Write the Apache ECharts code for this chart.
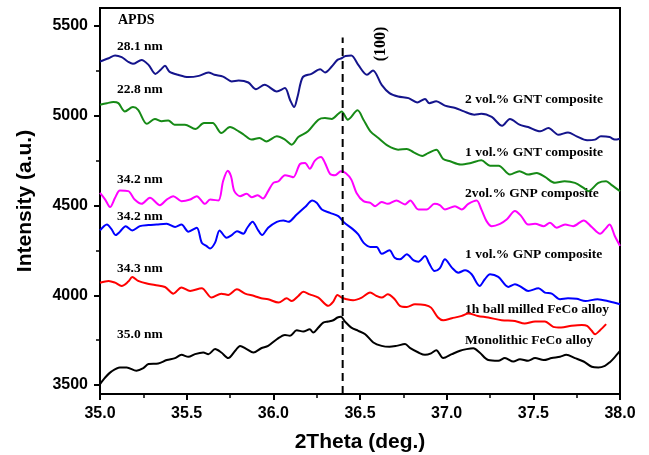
<!DOCTYPE html>
<html>
<head>
<meta charset="utf-8">
<script src="https://cdn.jsdelivr.net/npm/echarts@6/dist/echarts.min.js"></script>
<style>
  html, body { margin: 0; padding: 0; background: #fff; }
  #chart { width: 649px; height: 455px; }
</style>
</head>
<body>
<div id="chart"></div>
<script>
// XRD scans around the (100) reflection, [2theta (deg), intensity (a.u.)]
const gnt2 = [[35.0,5302],[35.05,5320],[35.087,5335],[35.125,5326],[35.16,5302],[35.19,5289],[35.24,5311],[35.28,5283],[35.32,5233],[35.35,5256],[35.375,5278],[35.40,5246],[35.45,5228],[35.51,5215],[35.57,5222],[35.625,5241],[35.66,5228],[35.71,5218],[35.76,5191],[35.80,5196],[35.856,5185],[35.90,5148],[35.95,5172],[36.02,5135],[36.067,5154],[36.096,5089],[36.12,5048],[36.14,5107],[36.17,5215],[36.22,5233],[36.27,5259],[36.298,5241],[36.337,5274],[36.37,5311],[36.394,5320],[36.417,5333],[36.45,5335],[36.49,5283],[36.54,5228],[36.575,5252],[36.625,5172],[36.67,5126],[36.72,5107],[36.78,5098],[36.83,5074],[36.875,5093],[36.90,5070],[36.94,5080],[36.99,5056],[37.05,5043],[37.10,5024],[37.16,5006],[37.20,5011],[37.26,4993],[37.32,4944],[37.365,4982],[37.42,4950],[37.47,4937],[37.54,4913],[37.587,4931],[37.645,4894],[37.70,4907],[37.75,4885],[37.81,4863],[37.856,4867],[37.89,4885],[37.94,4881],[37.97,4867],[38.0,4872]];

const gnt1 = [[35.0,5061],[35.04,5070],[35.077,5076],[35.106,5070],[35.144,5024],[35.19,5048],[35.22,5033],[35.27,4955],[35.317,4982],[35.356,4969],[35.394,4974],[35.43,4950],[35.49,4950],[35.55,4926],[35.60,4959],[35.65,4959],[35.70,4904],[35.75,4937],[35.80,4913],[35.83,4894],[35.875,4867],[35.92,4876],[35.96,4857],[36.02,4885],[36.067,4867],[36.106,4839],[36.144,4881],[36.20,4913],[36.26,4978],[36.298,4987],[36.337,4982],[36.375,5011],[36.394,5024],[36.43,4978],[36.486,5030],[36.52,4978],[36.56,4913],[36.606,4876],[36.66,4833],[36.72,4811],[36.77,4815],[36.81,4796],[36.86,4776],[36.89,4790],[36.94,4811],[36.98,4759],[37.02,4746],[37.08,4728],[37.14,4737],[37.20,4752],[37.25,4722],[37.30,4722],[37.365,4672],[37.42,4691],[37.47,4672],[37.52,4681],[37.567,4659],[37.625,4626],[37.68,4635],[37.74,4626],[37.79,4598],[37.817,4580],[37.875,4626],[37.92,4635],[37.95,4615],[38.0,4580]];

const gnp2 = [[35.0,4570],[35.03,4533],[35.058,4491],[35.087,4543],[35.115,4583],[35.163,4580],[35.2,4533],[35.24,4509],[35.288,4543],[35.346,4502],[35.385,4533],[35.423,4552],[35.47,4524],[35.52,4533],[35.558,4552],[35.606,4509],[35.635,4533],[35.683,4528],[35.71,4635],[35.737,4694],[35.756,4663],[35.775,4580],[35.808,4552],[35.846,4565],[35.875,4546],[35.91,4557],[35.94,4539],[35.97,4580],[36.0,4626],[36.03,4635],[36.067,4668],[36.096,4663],[36.115,4657],[36.154,4731],[36.183,4737],[36.21,4705],[36.24,4750],[36.275,4770],[36.298,4737],[36.327,4676],[36.356,4668],[36.39,4691],[36.417,4681],[36.45,4644],[36.48,4570],[36.52,4524],[36.56,4515],[36.587,4496],[36.625,4520],[36.66,4509],[36.71,4528],[36.76,4506],[36.79,4528],[36.837,4478],[36.885,4478],[36.93,4509],[36.96,4502],[36.99,4478],[37.048,4496],[37.087,4478],[37.125,4509],[37.173,4528],[37.2,4478],[37.23,4413],[37.26,4385],[37.308,4398],[37.346,4422],[37.394,4469],[37.43,4441],[37.47,4394],[37.51,4398],[37.56,4385],[37.596,4404],[37.635,4376],[37.683,4394],[37.73,4385],[37.79,4417],[37.837,4380],[37.885,4343],[37.913,4367],[37.94,4394],[37.97,4330],[38.0,4275]];

const gnp1 = [[35.0,4361],[35.04,4394],[35.067,4367],[35.09,4335],[35.115,4354],[35.148,4385],[35.186,4361],[35.23,4385],[35.28,4391],[35.327,4394],[35.385,4398],[35.433,4380],[35.47,4394],[35.51,4354],[35.558,4376],[35.587,4293],[35.615,4274],[35.635,4261],[35.664,4293],[35.69,4361],[35.73,4320],[35.76,4335],[35.79,4357],[35.827,4343],[35.85,4376],[35.88,4409],[35.913,4361],[35.935,4335],[35.97,4376],[36.02,4409],[36.058,4417],[36.087,4409],[36.135,4450],[36.183,4491],[36.225,4528],[36.25,4515],[36.28,4478],[36.327,4459],[36.375,4441],[36.41,4404],[36.46,4367],[36.49,4339],[36.52,4293],[36.56,4269],[36.596,4269],[36.625,4231],[36.67,4250],[36.70,4209],[36.73,4200],[36.77,4228],[36.81,4194],[36.837,4187],[36.875,4218],[36.90,4176],[36.93,4135],[36.96,4150],[36.99,4200],[37.03,4154],[37.067,4126],[37.106,4139],[37.144,4117],[37.19,4052],[37.22,4089],[37.25,4117],[37.298,4102],[37.356,4046],[37.394,4061],[37.43,4046],[37.47,4024],[37.53,4039],[37.567,4015],[37.606,4009],[37.654,3978],[37.70,3983],[37.75,3980],[37.80,3968],[37.87,3978],[37.94,3965],[38.0,3950]];

const milled = [[35.0,4070],[35.05,4080],[35.087,4070],[35.125,4052],[35.163,4076],[35.186,4102],[35.22,4080],[35.27,4065],[35.317,4057],[35.375,4046],[35.423,4009],[35.47,4043],[35.52,4024],[35.587,4039],[35.644,3987],[35.70,4009],[35.74,4002],[35.79,4033],[35.837,4009],[35.89,3996],[35.93,3983],[35.97,3978],[36.03,3959],[36.077,3983],[36.106,3968],[36.144,3996],[36.173,4020],[36.21,4005],[36.26,3987],[36.317,3941],[36.346,3965],[36.37,4002],[36.394,3987],[36.423,3978],[36.46,3972],[36.51,3987],[36.558,4015],[36.596,3996],[36.625,3987],[36.66,4005],[36.70,3978],[36.73,3941],[36.77,3935],[36.817,3950],[36.875,3946],[36.91,3931],[36.95,3876],[36.98,3861],[37.03,3872],[37.087,3885],[37.125,3898],[37.18,3885],[37.24,3876],[37.317,3861],[37.394,3857],[37.45,3842],[37.51,3854],[37.567,3854],[37.615,3824],[37.66,3820],[37.72,3830],[37.78,3835],[37.81,3830],[37.837,3802],[37.856,3783],[37.885,3805],[37.92,3839]];

const monolithic = [[35.0,3505],[35.03,3542],[35.067,3576],[35.115,3598],[35.154,3598],[35.21,3580],[35.25,3594],[35.28,3617],[35.336,3620],[35.385,3639],[35.433,3650],[35.47,3668],[35.51,3657],[35.548,3672],[35.596,3681],[35.625,3672],[35.664,3700],[35.70,3681],[35.74,3650],[35.78,3691],[35.808,3718],[35.846,3700],[35.885,3681],[35.93,3705],[35.97,3718],[36.02,3755],[36.067,3779],[36.096,3774],[36.135,3805],[36.173,3798],[36.21,3811],[36.23,3792],[36.26,3820],[36.288,3848],[36.317,3854],[36.346,3861],[36.37,3876],[36.39,3880],[36.413,3854],[36.45,3820],[36.49,3802],[36.53,3783],[36.577,3737],[36.625,3718],[36.67,3713],[36.71,3718],[36.76,3728],[36.79,3705],[36.837,3681],[36.875,3668],[36.91,3676],[36.94,3694],[36.98,3650],[37.03,3672],[37.077,3691],[37.115,3700],[37.154,3705],[37.19,3681],[37.24,3639],[37.298,3635],[37.336,3650],[37.385,3631],[37.423,3644],[37.47,3635],[37.51,3650],[37.56,3639],[37.606,3650],[37.654,3657],[37.69,3668],[37.74,3650],[37.79,3631],[37.837,3602],[37.875,3598],[37.913,3607],[37.94,3626],[37.965,3650],[38.0,3690]];

// Peak position of the (100) reflection
const peakTheta = 36.4;
const peakLine = [[peakTheta, 3450], [peakTheta, 5435]];

// Axis ranges and tick values
const xMin = 35.0, xMax = 38.0, xStep = 0.5;
const yMin = 3450, yMax = 5600;
const yMajorTicks = [3500, 4000, 4500, 5000, 5500];
const yMinorTicks = [3750, 4250, 4750, 5250];

// Series names, colours and crystallite sizes
const seriesNames = ['2 vol.% GNT composite', '1 vol.% GNT composite', '2vol.% GNP composite',
                     '1 vol.% GNP composite', '1h ball milled FeCo alloy', 'Monolithic FeCo alloy'];
const seriesColors = ['#14148c', '#168a16', '#ff00ff', '#0000ff', '#ff0000', '#000000'];
const crystalSizes = ['28.1 nm', '22.8 nm', '34.2 nm', '34.2 nm', '34.3 nm', '35.0 nm'];
const seriesData = [gnt2, gnt1, gnp2, gnp1, milled, monolithic];

const chart = echarts.init(document.getElementById('chart'), null, { renderer: 'canvas' });

const serifBold = 'bold 13.5px "Liberation Serif", "DejaVu Serif", serif';
const sizeLabelY = [47, 90, 180, 217, 269, 335];
const nameLabelY = [100, 153, 194, 255, 310, 341];

const graphics = [];
graphics.push({ type: 'text', x: 118, y: 20, style: { text: 'APDS', font: 'bold 14px "Liberation Serif", "DejaVu Serif", serif', fill: '#000', verticalAlign: 'middle' } });
crystalSizes.forEach((t, i) => {
  graphics.push({ type: 'text', x: 117, y: sizeLabelY[i], style: { text: t, font: serifBold, fill: '#000', verticalAlign: 'middle' } });
});
seriesNames.forEach((t, i) => {
  graphics.push({ type: 'text', x: 465, y: nameLabelY[i], style: { text: t, font: serifBold, fill: '#000', verticalAlign: 'middle' } });
});
graphics.push({ type: 'text', x: 381, y: 44, rotation: Math.PI / 2,
  style: { text: '(100)', font: 'bold 16px "Liberation Serif", "DejaVu Serif", serif', fill: '#000', align: 'center', verticalAlign: 'middle' } });

const tickFont = { fontFamily: '"Liberation Sans", Arial, sans-serif', fontWeight: 'bold', fontSize: 16, color: '#000' };
const nameFont = { fontFamily: '"Liberation Sans", Arial, sans-serif', fontWeight: 'bold', fontSize: 21, color: '#000' };

const series = seriesData.map((d, i) => ({
  name: seriesNames[i],
  type: 'line',
  data: d,
  xAxisIndex: 0,
  yAxisIndex: 0,
  showSymbol: false,
  smooth: 0.3,
  lineStyle: { color: seriesColors[i], width: 2 },
  silent: true,
  z: 3
}));
series.push({
  type: 'line',
  data: peakLine,
  showSymbol: false,
  lineStyle: { color: '#000', width: 2, type: [8, 5] },
  silent: true,
  z: 4
});

chart.setOption({
  animation: false,
  backgroundColor: '#fff',
  grid: { left: 100, right: 29, top: 8, bottom: 61, containLabel: false, outerBoundsMode: 'none',
          show: true, borderColor: '#000', borderWidth: 2, backgroundColor: 'transparent' },
  xAxis: {
    type: 'value',
    min: xMin, max: xMax, interval: xStep,
    name: '2Theta (deg.)',
    nameLocation: 'middle',
    nameGap: 38,
    nameTextStyle: nameFont,
    axisLine: { lineStyle: { color: '#000', width: 2 } },
    axisTick: { inside: false, length: 6, lineStyle: { color: '#000', width: 2 } },
    minorTick: { show: true, splitNumber: 2, length: 4, lineStyle: { color: '#000', width: 1.5 } },
    axisLabel: Object.assign({ margin: 12, formatter: v => v.toFixed(1) }, tickFont),
    splitLine: { show: false }
  },
  yAxis: [{
    type: 'value',
    min: yMin, max: yMax,
    name: 'Intensity (a.u.)',
    nameLocation: 'middle',
    nameGap: 64,
    nameTextStyle: nameFont,
    axisLine: { show: true, lineStyle: { color: '#000', width: 2 } },
    axisTick: { show: true, length: 6, customValues: yMajorTicks, lineStyle: { color: '#000', width: 2 } },
    axisLabel: Object.assign({ margin: 12, customValues: yMajorTicks, formatter: v => String(v) }, tickFont),
    splitLine: { show: false }
  }, {
    type: 'value',
    min: yMin, max: yMax,
    position: 'left',
    axisLine: { show: false },
    axisTick: { show: true, length: 4, customValues: yMinorTicks, lineStyle: { color: '#000', width: 1.5 } },
    axisLabel: { show: false },
    splitLine: { show: false }
  }],
  series: series,
  graphic: graphics
});
</script>
</body>
</html>
